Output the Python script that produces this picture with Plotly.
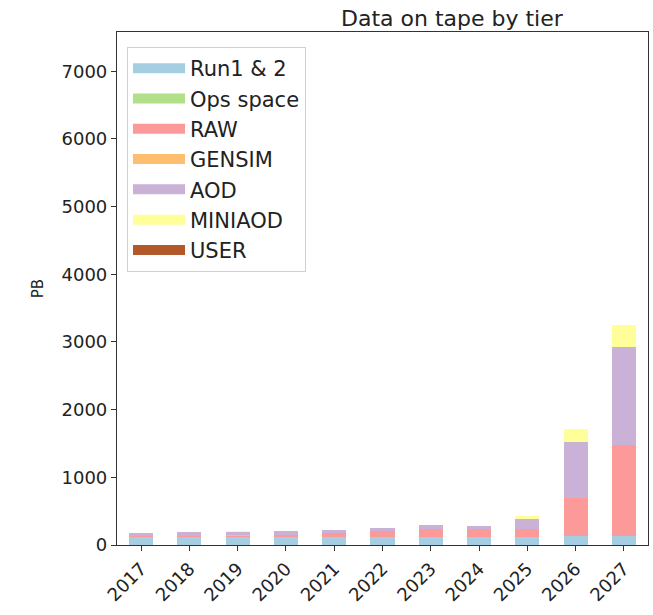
import plotly.graph_objects as go

years = ["2017", "2018", "2019", "2020", "2021", "2022", "2023", "2024", "2025", "2026", "2027"]
run12 = [125, 125, 125, 125, 125, 125, 120, 120, 120, 130, 130]
ops_space = [0, 0, 0, 0, 0, 0, 0, 0, 0, 0, 0]
raw = [10, 15, 20, 30, 55, 80, 110, 115, 115, 570, 1350]
gensim = [0, 0, 5, 0, 0, 0, 0, 0, 0, 0, 0]
aod = [35, 45, 45, 50, 45, 45, 60, 50, 145, 825, 1450]
miniaod = [0, 0, 5, 0, 0, 0, 0, 0, 50, 190, 325]
user = [0, 0, 0, 0, 0, 0, 0, 0, 0, 0, 0]

series = [
    ("Run1 & 2", run12, "#a6cee3"),
    ("Ops space", ops_space, "#b2df8a"),
    ("RAW", raw, "#fb9a99"),
    ("GENSIM", gensim, "#fdbf6f"),
    ("AOD", aod, "#cab2d6"),
    ("MINIAOD", miniaod, "#ffff99"),
    ("USER", user, "#b15928"),
]

fig = go.Figure()
for name, vals, col in series:
    fig.add_trace(go.Bar(x=years, y=vals, name=name, marker=dict(color=col, line=dict(width=0)),
                         width=0.5, showlegend=False))
for i, (name, vals, col) in enumerate(series):
    fig.add_trace(go.Scatter(x=[None], y=[None], mode="lines", name=name, legendgroup=f"g{i}",
                             line=dict(color=col, width=14)))

font = "DejaVu Sans, Arial, sans-serif"
L, R, T, B = 117, 648, 32, 545
fig.update_layout(
    width=653, height=615,
    margin=dict(l=L, r=653 - R, t=T, b=615 - B),
    barmode="stack",
    plot_bgcolor="white", paper_bgcolor="white",
    font=dict(family=font, size=16, color="#222"),
    showlegend=True,
    legend=dict(x=(127 - L) / (R - L), y=(B - 47) / (B - T), xanchor="left", yanchor="top",
                traceorder="normal",
                bgcolor="white", bordercolor="#d0d0d0", borderwidth=1,
                font=dict(family=font, size=21, color="#222"),
                tracegroupgap=6, itemwidth=52),
    annotations=[dict(text="Data on tape by tier", x=(452 - L) / (R - L), y=1 + (T - 18) / (B - T),
                      xref="paper", yref="paper", xanchor="center", yanchor="middle",
                      showarrow=False, font=dict(family=font, size=22, color="#222"))],
)
fig.update_xaxes(type="category", range=[-0.5, 10.5], tickangle=-45,
                 showline=True, linecolor="#333", linewidth=1.2, mirror=True,
                 ticks="outside", ticklen=5, tickcolor="#333", showgrid=False,
                 tickfont=dict(family=font, size=18, color="#222"))
fig.update_yaxes(range=[0, 7580], tickvals=[0, 1000, 2000, 3000, 4000, 5000, 6000, 7000],
                 showline=True, linecolor="#333", linewidth=1.2, mirror=True,
                 ticks="outside", ticklen=5, tickcolor="#333", showgrid=False, zeroline=False,
                 tickfont=dict(family=font, size=18, color="#222"),
                 title=dict(text="PB", font=dict(family=font, size=15, color="#222"), standoff=14))
fig.write_html("out.html", config={"displayModeBar": False},
               post_script="document.body.style.margin='0';")
